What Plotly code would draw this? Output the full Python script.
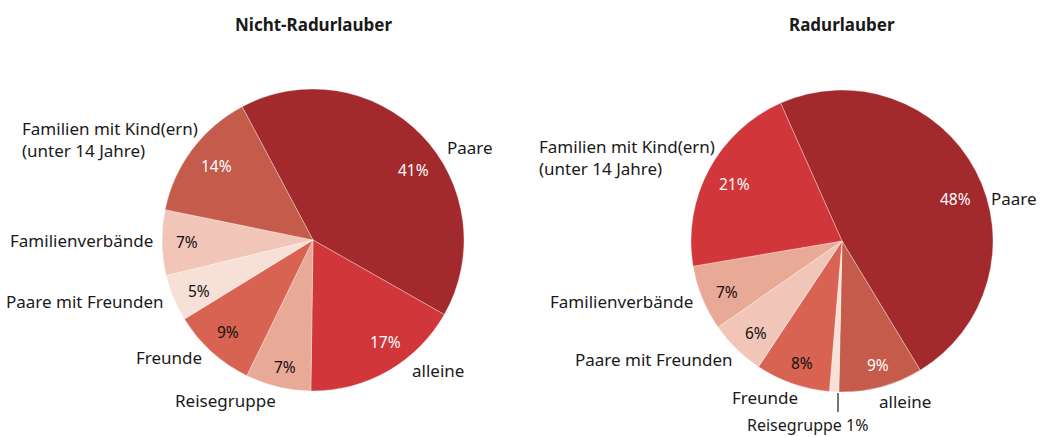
import plotly.graph_objects as go

W, H = 1041, 437

# ---- data ----
categories = ["Paare", "alleine", "Reisegruppe", "Freunde",
              "Paare mit Freunden", "Familienverbände", "Familien mit Kind(ern)"]
nicht_rad = [41, 17, 7, 9, 5, 7, 14]
rad = [48, 9, 1, 8, 6, 7, 21]
titles = ["Nicht-Radurlauber", "Radurlauber"]

# ---- styles ----
colors_left = ["#a2292c", "#d1363a", "#e8a996", "#d96352", "#f7e0d8", "#f1c6b9", "#c45b4b"]
colors_right = ["#a2292c", "#c45b4b", "#f7e0d8", "#d96352", "#f1c6b9", "#e8a996", "#d1363a"]
txtcol_left = ["white", "white", "#111", "#111", "#111", "#111", "white"]
txtcol_right = ["white", "white", "#111", "#111", "#111", "#111", "white"]
FONT = "Noto Sans"
LBL = 17
PCT = 15.5


def px(x):
    return x / W


def py(y):
    return 1 - y / H


fig = go.Figure()

left_dom = dict(x=[px(162), px(464)], y=[py(391), py(89)])
right_dom = dict(x=[px(691), px(993)], y=[py(392), py(90)])

for vals, cols, rot, dom in [(nicht_rad, colors_left, -28, left_dom),
                             (rad, colors_right, -24, right_dom)]:
    fig.add_trace(go.Pie(
        labels=categories, values=vals, sort=False, direction="clockwise", rotation=rot,
        marker=dict(colors=cols, line=dict(color="rgba(255,255,255,0.55)", width=0.6)),
        textinfo="none", domain=dom, showlegend=False, hoverinfo="label+percent",
    ))

# ---- label placement (pixel positions in page, anchors) ----
label_text = {"Familien mit Kind(ern)": "Familien mit Kind(ern)<br>(unter 14 Jahre)"}
left_labels = [  # (category index, x, y, xanchor)
    (0, 445, 147, "left"),
    (1, 410, 370, "left"),
    (2, 278, 400, "right"),
    (3, 204, 357, "right"),
    (4, 166, 301, "right"),
    (5, 155, 240, "right"),
    (6, 20, 139, "left"),
]
right_labels = [
    (0, 1039, 198, "right"),
    (1, 877, 401, "left"),
    (3, 800, 397, "right"),
    (4, 735, 359, "right"),
    (5, 695, 301, "right"),
    (6, 537, 158, "left"),
]
left_pct_pos = [(413, 170), (385, 342), (285, 367), (228, 332), (199, 291), (187, 242), (216, 166)]
right_pct_pos = [(955, 199), (878, 365), None, (802, 363), (756, 333), (727, 292), (734, 184)]

annotations = []
for idx, x, y, xa in left_labels + right_labels:
    t = label_text.get(categories[idx], categories[idx])
    annotations.append(dict(
        text=t, x=px(x), y=py(y), xref="paper", yref="paper",
        xanchor=xa, yanchor="middle", align="left", showarrow=False,
        font=dict(family=FONT, size=LBL, color="#1a1a1a"),
    ))

for vals, poss, tcols in [(nicht_rad, left_pct_pos, txtcol_left),
                          (rad, right_pct_pos, txtcol_right)]:
    for v, pos, c in zip(vals, poss, tcols):
        if pos is None:
            continue
        annotations.append(dict(
            text=f"{v}%", x=px(pos[0]), y=py(pos[1]), xref="paper", yref="paper",
            xanchor="center", yanchor="middle", showarrow=False,
            font=dict(family=FONT, size=PCT, color=c),
        ))

# small slice label (right pie, Reisegruppe)
annotations.append(dict(
    text=f"{categories[2]} {rad[2]}%", x=px(807), y=py(425), xref="paper", yref="paper",
    xanchor="center", yanchor="middle", showarrow=False,
    font=dict(family=FONT, size=16, color="#1a1a1a"),
))

# titles
for t, cx in zip(titles, [313, 842]):
    annotations.append(dict(
        text=f"<b>{t}</b>", x=px(cx), y=py(24), xref="paper", yref="paper",
        xanchor="center", yanchor="middle", showarrow=False,
        font=dict(family=FONT, size=LBL, color="#1a1a1a"),
    ))

shapes = [dict(type="line", xref="paper", yref="paper",
               x0=px(838), x1=px(838), y0=py(393), y1=py(412),
               line=dict(color="#1a1a1a", width=1.2))]

fig.update_layout(
    width=W, height=H, margin=dict(l=0, r=0, t=0, b=0),
    paper_bgcolor="white", plot_bgcolor="white",
    annotations=annotations, shapes=shapes,
    font=dict(family=FONT),
)

fig.write_html(
    "out.html",
    config={"displayModeBar": False},
    post_script="document.body.style.margin='0';document.body.style.overflow='hidden';",
)
